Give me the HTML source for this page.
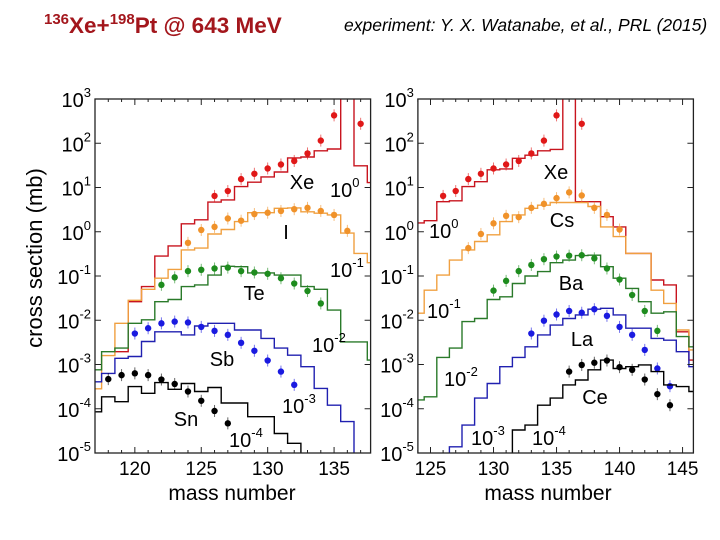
<!DOCTYPE html>
<html><head><meta charset="utf-8"><style>
html,body{margin:0;padding:0;background:#fff}
svg{display:block;font-family:"Liberation Sans",Arial,sans-serif}
</style></head><body>
<svg id="chart" width="720" height="540" viewBox="0 0 720 540">
<text x="44" y="33" font-size="22.5" font-weight="bold" fill="#a3161c"><tspan font-size="15" dy="-9">136</tspan><tspan dy="9">Xe+</tspan><tspan font-size="15" dy="-9">198</tspan><tspan dy="9">Pt @ 643 MeV</tspan></text>
<text x="344" y="31" font-size="17.5" font-style="italic">experiment: Y. X. Watanabe, et al., PRL (2015)</text>
<text transform="translate(42,258) rotate(-90)" text-anchor="middle" font-size="22">cross section (mb)</text>
<text x="232" y="500" text-anchor="middle" font-size="21">mass number</text>
<text x="548" y="500" text-anchor="middle" font-size="21">mass number</text>
<g id="plots"></g>
</svg>
<script>
// ---- data (log10 of cross section in mb) ----
const xeLM=[126,127,128,129,130,131,132,133,134,135,137];
const xeLV=[0.81,0.92,1.19,1.31,1.43,1.52,1.60,1.77,2.06,2.63,2.44];
const xeLHm=[119,120,121,122,123,124,125,126,127,128,129,130,131,132,133,134,135,136,137,138];
const xeLHv=[-2.71,-1.58,-1.24,-0.55,-0.32,0.18,0.27,0.67,0.72,1.02,1.12,1.24,1.35,1.67,1.69,1.83,1.87,5,1.49,1.11];
const iLM=[124,125,126,127,128,129,130,131,132,133,134,135,136];
const iLV=[-0.25,0.04,0.11,0.30,0.25,0.40,0.43,0.47,0.51,0.54,0.47,0.38,0.02];
const iLHm=[117,118,119,120,121,122,123,124,125,126,127,128,129,130,131,132,133,134,135,136,137,138];
const iLHv=[-3.55,-2.8,-2.07,-1.55,-1.3,-1.05,-0.85,-0.41,-0.37,-0.05,0.05,0.23,0.43,0.43,0.53,0.54,0.45,0.42,0.38,-0.03,-0.49,-0.70];
const teLM=[122,123,124,125,126,127,128,129,130,131,132,133,134];
const teLV=[-1.20,-1.03,-0.89,-0.86,-0.83,-0.81,-0.89,-0.92,-0.95,-1.05,-1.17,-1.34,-1.62];
const teLHm=[117,118,119,120,121,122,123,124,125,126,127,128,129,130,131,132,133,134,135,136,137,138];
const teLHv=[-3.12,-2.71,-2.63,-2.07,-1.99,-1.58,-1.53,-1.24,-1.20,-0.98,-0.78,-0.79,-0.93,-0.93,-0.98,-0.98,-1.24,-1.30,-1.77,-2.49,-2.49,-2.90];
const sbLM=[120,121,122,123,124,125,126,127,128,129,130,131,132];
const sbLV=[-2.30,-2.18,-2.07,-2.03,-2.05,-2.15,-2.24,-2.33,-2.51,-2.69,-2.91,-3.16,-3.46];
const sbLHm=[117,118,119,120,121,122,123,124,125,126,127,128,129,130,131,132,133,134,135,136,137];
const sbLHv=[-3.39,-3.20,-2.86,-2.82,-2.48,-2.26,-2.26,-2.33,-2.13,-2.07,-2.07,-2.22,-2.22,-2.41,-2.63,-2.79,-3.05,-3.54,-3.92,-4.29,-6];
const snLM=[118,119,120,121,122,123,124,125,126,127];
const snLV=[-3.33,-3.24,-3.20,-3.24,-3.34,-3.44,-3.61,-3.82,-4.05,-4.33];
const snLHm=[117,118,119,120,121,122,123,124,125,126,127,128,129,130,131,132,133];
const snLHv=[-4.07,-3.73,-3.84,-3.50,-3.65,-3.41,-3.56,-3.43,-3.61,-3.52,-3.87,-3.87,-4.18,-4.18,-4.56,-4.78,-6];

const xeRM=[126,127,128,129,130,131,132,133,134,135,137];
const xeRV=[0.81,0.92,1.19,1.31,1.43,1.52,1.60,1.77,2.06,2.63,2.44];
const xeRHm=[124,125,126,127,128,129,130,131,132,133,134,135,136,137,138,139,140,141,142,143,144,145,146];
const xeRHv=[0.20,0.25,0.68,0.70,1.02,1.13,1.40,1.42,1.66,1.73,1.83,1.86,5,0.68,0.68,0.34,0.11,-0.49,-0.49,-1.09,-1.2,-2.26,-2.90];
const csRM=[128,129,130,131,132,133,134,135,136,137,138,139,140];
const csRV=[-0.37,-0.05,0.19,0.36,0.33,0.54,0.63,0.76,0.89,0.82,0.54,0.38,0.05];
const csRHm=[124,125,126,127,128,129,130,131,132,133,134,135,136,137,138,139,140,141,142,143,144,145,146];
const csRHv=[-1.84,-1.32,-0.98,-0.64,-0.41,-0.22,-0.07,0.23,0.38,0.53,0.60,0.66,0.66,0.66,0.57,0.11,-0.11,-0.49,-0.49,-1.32,-1.62,-2.22,-2.67];
const baRM=[130,131,132,133,134,135,136,137,138,139,140,141,142,143];
const baRV=[-1.33,-1.11,-0.89,-0.75,-0.62,-0.56,-0.54,-0.53,-0.60,-0.83,-1.08,-1.43,-1.79,-2.24];
const baRHm=[124,125,126,127,128,129,130,131,132,133,134,135,136,137,138,139,140,141,142,143,144,145,146];
const baRHv=[-3.80,-3.73,-2.84,-2.63,-2.03,-1.96,-1.53,-1.47,-1.17,-1.00,-0.90,-0.70,-0.64,-0.54,-0.53,-0.79,-1.05,-1.28,-1.58,-1.84,-1.81,-2.37,-2.60];
const laRM=[133,134,135,136,137,138,139,140,141,142,143,144];
const laRV=[-2.30,-2.01,-1.87,-1.79,-1.83,-1.75,-1.90,-2.15,-2.33,-2.67,-3.09,-3.49];
const laRHm=[126,127,128,129,130,131,132,133,134,135,136,137,138,139,140,141,142,143,144,145,146];
const laRHv=[-5.5,-4.86,-4.37,-3.76,-3.43,-3.05,-2.84,-2.60,-2.33,-2.11,-1.96,-1.88,-1.75,-1.73,-1.88,-2.18,-2.18,-2.41,-2.45,-2.71,-3.05];
const ceRM=[136,137,138,139,140,141,142,143,144];
const ceRV=[-3.16,-3.01,-2.96,-2.91,-3.06,-3.12,-3.34,-3.67,-3.92];
const ceRHm=[131,132,133,134,135,136,137,138,139,140,141,142,143,144,145,146];
const ceRHv=[-5.5,-4.48,-4.37,-3.92,-3.76,-3.46,-3.35,-3.12,-2.90,-3.09,-3.05,-3.01,-3.16,-3.46,-3.50,-3.61];

const yTickExps=[3,2,1,0,-1,-2,-3,-4,-5];
const xTicksLeft=[120,125,130,135];
const xTicksRight=[125,130,135,140,145];

const NS='http://www.w3.org/2000/svg';
const root=document.getElementById('plots');
function mk(tag,attrs,parent){const e=document.createElementNS(NS,tag);for(const k in attrs)e.setAttribute(k,attrs[k]);(parent||root).appendChild(e);return e;}
const Y0=99,Y1=453;
function yS(l){return Y0+(3-l)*(Y1-Y0)/8;}

const panels=[
 {id:'left',x0:95,x1:370.6,m0:117,m1:137.75,ticks:xTicksLeft,
  series:[
   {n:'xe',pm:xeLM,pv:xeLV,hm:xeLHm,hv:xeLHv,pc:'#e01818',hc:'#c8141e'},
   {n:'i',pm:iLM,pv:iLV,hm:iLHm,hv:iLHv,pc:'#f0922a',hc:'#f0a040'},
   {n:'te',pm:teLM,pv:teLV,hm:teLHm,hv:teLHv,pc:'#1e8c1e',hc:'#2a7a2a'},
   {n:'sb',pm:sbLM,pv:sbLV,hm:sbLHm,hv:sbLHv,pc:'#1a1ae0',hc:'#2020b0'},
   {n:'sn',pm:snLM,pv:snLV,hm:snLHm,hv:snLHv,pc:'#000',hc:'#000'}],
  labels:[['Xe',302,189],['I',286,239],['Te',254,300],['Sb',222,366],['Sn',186,426]],
  scales:[['0',330,197],['-1',330,277],['-2',312,352],['-3',282,413],['-4',229,447]]},
 {id:'right',x0:417.9,x1:693.4,m0:124,m1:145.86,ticks:xTicksRight,
  series:[
   {n:'xe',pm:xeRM,pv:xeRV,hm:xeRHm,hv:xeRHv,pc:'#e01818',hc:'#c8141e'},
   {n:'cs',pm:csRM,pv:csRV,hm:csRHm,hv:csRHv,pc:'#f0922a',hc:'#f0a040'},
   {n:'ba',pm:baRM,pv:baRV,hm:baRHm,hv:baRHv,pc:'#1e8c1e',hc:'#2a7a2a'},
   {n:'la',pm:laRM,pv:laRV,hm:laRHm,hv:laRHv,pc:'#1a1ae0',hc:'#2020b0'},
   {n:'ce',pm:ceRM,pv:ceRV,hm:ceRHm,hv:ceRHv,pc:'#000',hc:'#000'}],
  labels:[['Xe',556,179],['Cs',562,227],['Ba',571,290],['La',582,346],['Ce',595,404]],
  scales:[['0',429,238],['-1',427,318],['-2',444,386],['-3',471,445],['-4',532,445]]}
];

panels.forEach(p=>{
 const xS=m=>p.x0+(m-p.m0)*(p.x1-p.x0)/(p.m1-p.m0);
 const g=mk('g',{});
 
 
 const cp=mk('clipPath',{id:'clip-'+p.id},g);
 mk('rect',{x:p.x0,y:Y0,width:p.x1-p.x0,height:Y1-Y0},cp);
 const data=mk('g',{'clip-path':'url(#clip-'+p.id+')'},g);
 p.series.forEach(s=>{
  let d='';
  s.hm.forEach((m,i)=>{
   const v=Math.max(s.hv[i],-6.5);
   const xa=xS(m-0.5),xb=xS(m+0.5),y=yS(v);
   if(i===0)d+='M'+xa.toFixed(1)+','+y.toFixed(1);else d+='V'+y.toFixed(1);
   d+='H'+xb.toFixed(1);
  });
  d+='V'+(Y1+5);
  const h=mk('path',{d:d,fill:'none',stroke:s.hc,'stroke-width':1.4},data);
  
  
  s.pm.forEach((m,i)=>{
   const cx=xS(m),cy=yS(s.pv[i]);
   const eb=mk('line',{x1:cx,x2:cx,y1:cy-6,y2:cy+6,stroke:s.pc,'stroke-width':1,opacity:0.6},data);
   
   
   const c=mk('circle',{cx:cx,cy:cy,r:3.2,fill:s.pc},data);
   
   
  });
 });
 const fr=mk('rect',{x:p.x0,y:Y0,width:p.x1-p.x0,height:Y1-Y0,fill:'none',stroke:'#222','stroke-width':1.3},g);
 
 
 for(let m=Math.ceil(p.m0);m<=p.m1;m++){
  const x=xS(m),L=(m%5===0)?6:3;
  mk('line',{x1:x,x2:x,y1:Y1,y2:Y1-L,stroke:'#222'},g);
  mk('line',{x1:x,x2:x,y1:Y0,y2:Y0+L,stroke:'#222'},g);
 }
 p.ticks.forEach(t=>{
  const tx=mk('text',{x:xS(t),y:475,'text-anchor':'middle','font-size':19},g);
  tx.textContent=t;
  
  
 });
 yTickExps.forEach(e=>{
  const y=yS(e);
  mk('line',{x1:p.x0,x2:p.x0+6,y1:y,y2:y,stroke:'#222'},g);
  mk('line',{x1:p.x1,x2:p.x1-6,y1:y,y2:y,stroke:'#222'},g);
  const tx=mk('text',{x:p.x0-4,y:y+8,'text-anchor':'end','font-size':20},g);
  tx.innerHTML='10<tspan font-size="13" dy="-10">'+e+'</tspan>';
  
  
 });
 p.labels.forEach(l=>{
  const tx=mk('text',{x:l[1],y:l[2],'text-anchor':'middle','font-size':20},g);
  tx.textContent=l[0];
  
  
 });
 p.scales.forEach(sc=>{
  const tx=mk('text',{x:sc[1],y:sc[2],'font-size':20},g);
  tx.innerHTML='10<tspan font-size="13" dy="-10">'+sc[0]+'</tspan>';
  
  
 });
});
</script>
</body></html>
